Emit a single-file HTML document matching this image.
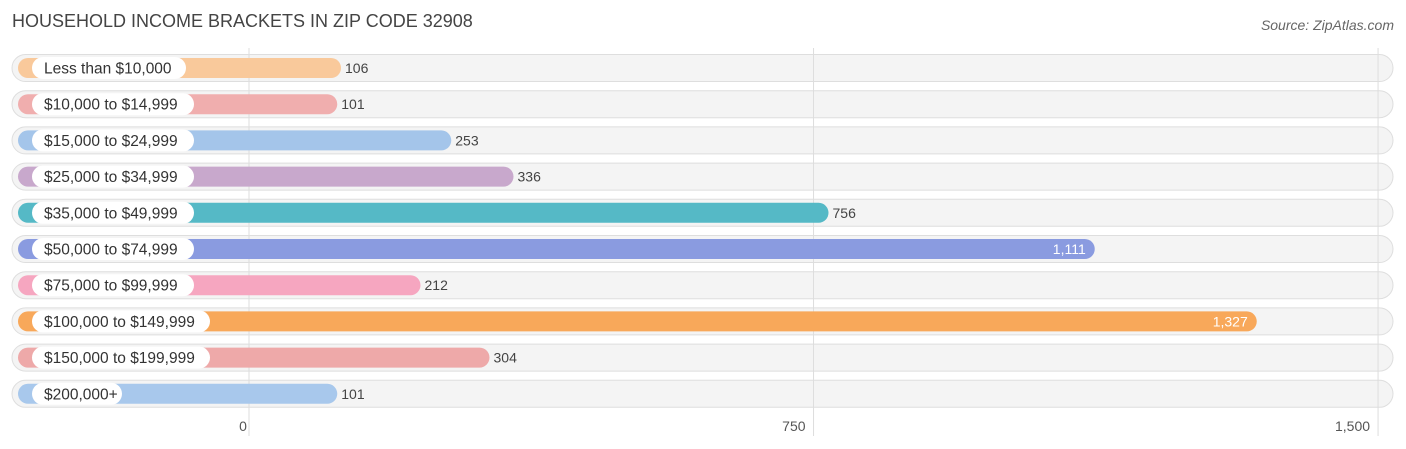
<!DOCTYPE html>
<html><head><meta charset="utf-8"><style>
body{margin:0;background:#fff;font-family:"Liberation Sans",sans-serif;}
#wrap{position:relative;width:1406px;height:449px;overflow:hidden;}
</style></head><body>
<div id="wrap">
<svg id="svg" width="1406" height="449">
<text x="12" y="27" font-size="18" fill="#444">HOUSEHOLD INCOME BRACKETS IN ZIP CODE 32908</text>
<text x="1394" y="30" font-size="14" fill="#666" font-style="italic" text-anchor="end">Source: ZipAtlas.com</text>
<g id="bgs"></g><g id="grid"></g><g id="rows"></g>
</svg>
</div>
<script>
const categories=["Less than $10,000","$10,000 to $14,999","$15,000 to $24,999","$25,000 to $34,999","$35,000 to $49,999","$50,000 to $74,999","$75,000 to $99,999","$100,000 to $149,999","$150,000 to $199,999","$200,000+"];
const values=[106,101,253,336,756,1111,212,1327,304,101];
const valueLabels=["106","101","253","336","756","1,111","212","1,327","304","101"];
const colors=["#f9c99b","#f0aeae","#a4c5ea","#c8a8cc","#55b9c6","#8a9be0","#f6a6c0","#f8a85a","#eea9a9","#a8c8ec"];
const ticks=[0,750,1500];
const tickLabels=["0","750","1,500"];
const NS="http://www.w3.org/2000/svg";
function gx(v){return 249+v*0.7527;}
function bx(v){return 261.5+v*0.75;}
function ry(i){return 68+i*36.2;}
function mk(t,a,p){const e=document.createElementNS(NS,t);for(const k in a)e.setAttribute(k,a[k]);p.appendChild(e);return e;}
const grid=document.getElementById('grid'),rows=document.getElementById('rows'),bgs=document.getElementById('bgs');
ticks.forEach((t,i)=>{
 const l=mk('line',{x1:gx(t),x2:gx(t),y1:48,y2:436,stroke:'#ddd','stroke-width':1},grid);
 
 
 const tx=mk('text',{x:gx(t)-(i==0?6:8),y:431,'font-size':14,fill:'#555','text-anchor':i==0?'middle':'end'},grid);
 tx.textContent=tickLabels[i];
 
 
});
categories.forEach((c,i)=>{
 const y=ry(i);
 const bg=mk('rect',{x:12,y:y-13.5,width:1381,height:27,rx:13.5,fill:'#f4f4f4',stroke:'#dedede'},bgs);
 
 
 const g=mk('g',{},rows);
 
 
 const b=mk('rect',{x:18,y:y-10,width:bx(values[i])-18,height:20,rx:10,fill:colors[i]},g);
 
 
 const lp=mk('rect',{x:32,y:y-11,width:c.length*8+18,height:22,rx:11,fill:'#fff'},g);
 
 
 const lt=mk('text',{x:44,y:y+5.5,'font-size':15.5,fill:'#333'},g);
 lt.textContent=c;
 
 
 const inside=values[i]>1000;
 const vt=mk('text',{x:inside?bx(values[i])-9:bx(values[i])+4,y:y+5,'font-size':14,fill:inside?'#fff':'#444','text-anchor':inside?'end':'start'},g);
 vt.textContent=valueLabels[i];
 
 
});
</script>
</body></html>
